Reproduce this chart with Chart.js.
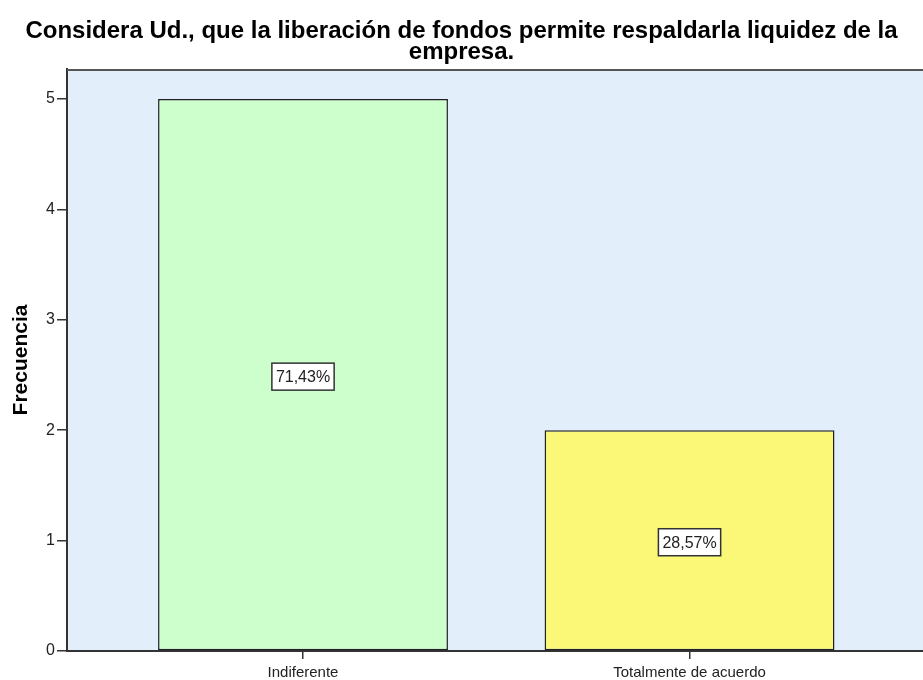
<!DOCTYPE html>
<html lang="es">
<head>
  <meta charset="UTF-8">
  <title>Frecuencia - liberación de fondos</title>
  <style>
    body { margin: 0; background: #ffffff; overflow: hidden; }
    canvas { display: block; }
  </style>
</head>
<body>
  <canvas id="grafico" width="923" height="680"></canvas>

  <script src="https://cdn.jsdelivr.net/npm/chart.js"></script>
  <script>
    // datos
    const categorias = ['Indiferente', 'Totalmente de acuerdo'];
    const frecuencias = [5, 2];
    const porcentajes = ['71,43%', '28,57%'];
    const ticksY = [0, 1, 2, 3, 4, 5];
    const coloresBarras = ['#CCFFCC', '#FBF877'];

    const fuente = '"Liberation Sans", Arial, sans-serif';

    // fondo del area del grafico + borde superior
    const fondoPlot = {
      id: 'fondoPlot',
      beforeDraw(chart) {
        const a = chart.chartArea, ctx = chart.ctx;
        ctx.save();
        ctx.fillStyle = '#E2EEFA';
        ctx.fillRect(a.left, a.top, a.right - a.left, a.bottom - a.top);
        ctx.restore();
      },
      afterDraw(chart) {
        const a = chart.chartArea, ctx = chart.ctx;
        ctx.save();
        ctx.strokeStyle = '#555';
        ctx.lineWidth = 2;
        ctx.beginPath();
        ctx.moveTo(a.left, a.top + 1);
        ctx.lineTo(a.right, a.top + 1);
        ctx.stroke();
        ctx.restore();
      }
    };

    // etiquetas de porcentaje en cajas blancas
    const etiquetas = {
      id: 'etiquetas',
      afterDatasetsDraw(chart) {
        const ctx = chart.ctx;
        const meta = chart.getDatasetMeta(0);
        ctx.save();
        ctx.font = '16px ' + fuente;
        ctx.textAlign = 'center';
        ctx.textBaseline = 'middle';
        meta.data.forEach((bar, i) => {
          const txt = porcentajes[i];
          const cx = bar.x;
          const cy = (bar.y + bar.base) / 2 + 2;
          const w = ctx.measureText(txt).width + 8;
          const h = 27;
          ctx.fillStyle = '#ffffff';
          ctx.fillRect(cx - w / 2, cy - h / 2, w, h);
          ctx.strokeStyle = '#333';
          ctx.lineWidth = 1.5;
          ctx.strokeRect(cx - w / 2, cy - h / 2, w, h);
          ctx.fillStyle = '#222';
          ctx.fillText(txt, cx, cy + 1);
        });
        ctx.restore();
      }
    };

    new Chart(document.getElementById('grafico'), {
      type: 'bar',
      data: {
        datasets: [{
          data: frecuencias.map((v, i) => ({ x: i, y: v })),
          backgroundColor: coloresBarras,
          borderColor: '#222',
          borderWidth: 1.5,
          borderSkipped: false,
          barPercentage: 0.75,
          categoryPercentage: 1
        }]
      },
      options: {
        responsive: false,
        animation: false,
        layout: { padding: 0 },
        plugins: {
          legend: { display: false },
          tooltip: { enabled: false },
          title: {
            display: true,
            text: ['Considera Ud., que la liberación de fondos permite respaldarla liquidez de la', 'empresa.'],
            color: '#000',
            font: { family: fuente, size: 24, weight: 'bold', lineHeight: 0.875 },
            padding: { top: 21, bottom: 6 }
          }
        },
        scales: {
          x: {
            type: 'linear',
            min: -0.6106,
            max: 1.604,
            offset: false,
            afterBuildTicks: (ax) => { ax.ticks = categorias.map((c, i) => ({ value: i })); },
            afterFit: (ax) => { ax.height = 29; },
            ticks: {
              autoSkip: false,
              maxRotation: 0,
              padding: 5,
              color: '#222',
              font: { family: fuente, size: 15 },
              callback: (v) => categorias[v]
            },
            grid: { offset: false, drawOnChartArea: false, drawTicks: true, tickLength: 8, color: '#333', lineWidth: 1.5 },
            border: { display: true, color: '#333', width: 2 }
          },
          y: {
            min: 0,
            max: 5.272,
            afterBuildTicks: (ax) => { ax.ticks = ticksY.map(v => ({ value: v })); },
            afterFit: (ax) => { ax.width = 67; },
            ticks: {
              padding: 2,
              color: '#222',
              font: { family: fuente, size: 16 }
            },
            grid: { drawOnChartArea: false, drawTicks: true, tickLength: 10, color: '#333', lineWidth: 1.5 },
            border: { display: true, color: '#333', width: 2 },
            title: {
              display: true,
              text: 'Frecuencia',
              color: '#000',
              font: { family: fuente, size: 21, weight: 'bold', lineHeight: 1 },
              padding: { top: 11, bottom: 0 }
            }
          }
        }
      },
      plugins: [fondoPlot, etiquetas]
    });
  </script>
</body>
</html>
